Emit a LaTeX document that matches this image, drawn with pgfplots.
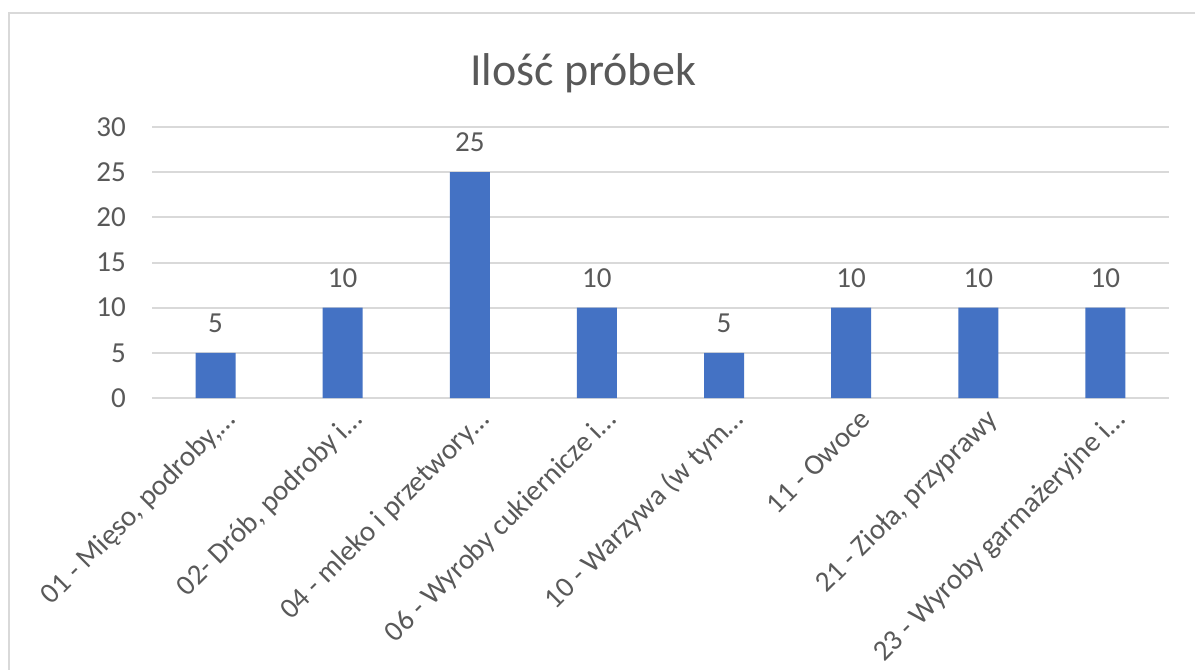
\documentclass[border=0pt]{standalone}
\usepackage{fontspec}
\setmainfont{Carlito}
\usepackage{pgfplots}
\pgfplotsset{compat=1.18}
\definecolor{txt}{HTML}{595959}
\definecolor{gridc}{HTML}{D9D9D9}
\definecolor{barc}{HTML}{4472C4}
\begin{document}
\begin{tikzpicture}
\clip (0,0) rectangle (1195bp,670bp);
\useasboundingbox (0,0) rectangle (1195bp,670bp);
\fill[white] (0,0) rectangle (1195bp,670bp);
% chart border
\draw[gridc, line width=2bp] (9bp,-20bp) rectangle (1215bp,657bp);
\node[txt, font=\fontsize{46bp}{52bp}\selectfont] at (583bp,597bp) {Ilość próbek};
\begin{axis}[
    at={(152bp,272bp)}, anchor=south west,
    scale only axis,
    width=1017bp, height=271bp,
    xmin=-0.5, xmax=7.5,
    ymin=0, ymax=30,
    ytick={0,5,...,30},
    xtick={0,...,7},
    xticklabels={01 - Mięso{,} podroby{,}…, 02- Drób{,} podroby i…, 04 - mleko i przetwory…, 06 - Wyroby cukiernicze i…, 10 - Warzywa (w tym…, 11 - Owoce, 21 - Zioła{,} przyprawy, 23 - Wyroby garmażeryjne i…},
    major tick length=0pt,
    axis line style={draw=none},
    ymajorgrids, grid style={gridc, line width=2bp},
    /pgf/number format/assume math mode=true,
    tick label style={txt, font=\fontsize{29bp}{34bp}\selectfont},
    yticklabel style={anchor=east, inner sep=0pt, xshift=-26bp},
    xticklabel style={xshift=21bp, yshift=-23bp, rotate=45, anchor=base east, inner sep=0pt},
    ybar, bar width=40bp,
    nodes near coords,
    nodes near coords style={txt, font=\fontsize{29bp}{34bp}\selectfont, anchor=south, inner sep=0pt, yshift=20bp},
    clip=false,
]
\addplot[fill=barc, draw=none] coordinates {
    (0,5) (1,10) (2,25) (3,10) (4,5) (5,10) (6,10) (7,10)
};
\end{axis}
\end{tikzpicture}
\end{document}
